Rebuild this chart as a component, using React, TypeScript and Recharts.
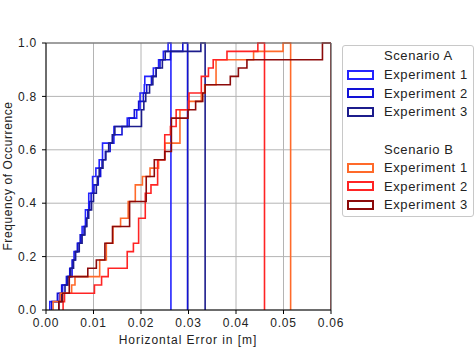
import {
  LineChart,
  Line,
  XAxis,
  YAxis,
  CartesianGrid,
  ReferenceLine,
} from "recharts";

// tick values
const xTicks = [0, 0.01, 0.02, 0.03, 0.04, 0.05, 0.06];
const yTicks = [0, 0.2, 0.4, 0.6, 0.8, 1.0];

// sorted horizontal errors [m] per experiment
const aExp1 = [
  0.0008, 0.0028, 0.0035, 0.0045, 0.0055, 0.0057, 0.0059, 0.0067, 0.0074, 0.0076,
  0.0083, 0.0083, 0.009, 0.009, 0.0098, 0.0098, 0.0105, 0.0112, 0.0119, 0.0119,
  0.0143, 0.0143, 0.0171, 0.0191, 0.0198, 0.0198, 0.0207, 0.0208, 0.0226, 0.0237,
  0.0247, 0.0257,
];
const aExp2 = [
  0.0012, 0.0024, 0.0033, 0.0043, 0.005, 0.0055, 0.0062, 0.0066, 0.0072, 0.008,
  0.0085, 0.0088, 0.0092, 0.0095, 0.0101, 0.011, 0.0115, 0.0118, 0.0125, 0.0135,
  0.014, 0.016, 0.0175, 0.0186, 0.0195, 0.0205, 0.0212, 0.0222, 0.0232, 0.024,
  0.0262, 0.0288,
];
const aExp3 = [
  0.0027, 0.0033, 0.004, 0.0046, 0.0052, 0.0058, 0.0062, 0.007, 0.0076, 0.0082,
  0.0086, 0.009, 0.0096, 0.01, 0.0106, 0.0108, 0.0112, 0.012, 0.0126, 0.0132,
  0.014, 0.0145, 0.0201, 0.0201, 0.0206, 0.021, 0.0218, 0.0225, 0.0232, 0.0245,
  0.0251, 0.0326,
];
const bExp1 = [
  0.0015, 0.003, 0.0054, 0.0061, 0.0113, 0.0113, 0.0127, 0.0127, 0.0141, 0.0141,
  0.0157, 0.0173, 0.0173, 0.0188, 0.0188, 0.0203, 0.0219, 0.0237, 0.025, 0.025,
  0.0282, 0.0282, 0.0282, 0.0282, 0.03, 0.0327, 0.0334, 0.0358, 0.0358, 0.0358,
  0.0437, 0.0499,
];
const bExp2 = [
  0.0036, 0.0039, 0.0102, 0.0117, 0.0131, 0.0171, 0.0171, 0.0184, 0.0195, 0.0195,
  0.0195, 0.0209, 0.0209, 0.0209, 0.0221, 0.0235, 0.0235, 0.0235, 0.025, 0.025,
  0.025, 0.0262, 0.0274, 0.0274, 0.0301, 0.0301, 0.0327, 0.0327, 0.0342, 0.0352,
  0.0381, 0.0446,
];
const bExp3 = [
  0.0027, 0.0035, 0.0049, 0.0049, 0.0088, 0.0106, 0.0124, 0.0124, 0.014, 0.014,
  0.0176, 0.0176, 0.0176, 0.0211, 0.0211, 0.0211, 0.0228, 0.0228, 0.025, 0.0264,
  0.0264, 0.0264, 0.0264, 0.0299, 0.0315, 0.033, 0.0335, 0.0388, 0.0405, 0.0423,
  0.0582, 0.0582,
];

// right edge of the last histogram bin
const aExp1End = 0.0263;
const aExp2End = 0.0298;
const aExp3End = 0.0335;
const bExp1End = 0.0515;
const bExp2End = 0.046;
const bExp3End = 0.06;

type Pt = { x: number; y: number };

// cumulative step curve, closed down to zero at the last edge
function toSteps(samples: number[], end: number): Pt[] {
  const n = samples.length;
  const pts: Pt[] = [{ x: samples[0], y: 0 }];
  samples.forEach((v, i) => pts.push({ x: v, y: (i + 1) / n }));
  pts.push({ x: end, y: 1 }, { x: end, y: 0 });
  return pts;
}

const series = [
  { name: "Experiment 1", color: "#2424ff", data: toSteps(aExp1, aExp1End) },
  { name: "Experiment 2", color: "#1212d6", data: toSteps(aExp2, aExp2End) },
  { name: "Experiment 3", color: "#1c1c8c", data: toSteps(aExp3, aExp3End) },
  { name: "Experiment 1", color: "#ff6a2a", data: toSteps(bExp1, bExp1End) },
  { name: "Experiment 2", color: "#ff2424", data: toSteps(bExp2, bExp2End) },
  { name: "Experiment 3", color: "#8c0a0a", data: toSteps(bExp3, bExp3End) },
];

const font = "'Liberation Sans', Arial, sans-serif";
const tickStyle = {
  fontSize: 12,
  fill: "#222",
  fontFamily: font,
  letterSpacing: 0.8,
};

function LegendBox() {
  const rows: { text: string; color?: string; top: number }[] = [
    { text: "Scenario A", top: 55 },
    { text: "Experiment 1", color: series[0].color, top: 74 },
    { text: "Experiment 2", color: series[1].color, top: 92.5 },
    { text: "Experiment 3", color: series[2].color, top: 111 },
    { text: "Scenario B", top: 148.5 },
    { text: "Experiment 1", color: series[3].color, top: 167 },
    { text: "Experiment 2", color: series[4].color, top: 185.5 },
    { text: "Experiment 3", color: series[5].color, top: 204 },
  ];
  return (
    <div
      style={{
        position: "absolute",
        left: 342,
        top: 45,
        width: 130,
        height: 170,
        border: "1px solid #c8c8c8",
        borderRadius: 3,
        background: "#fff",
      }}
    >
      {rows.map((r, i) => (
        <div key={i}>
          {r.color && (
            <div
              style={{
                position: "absolute",
                left: 4,
                top: r.top - 45 - 5.5,
                width: 23,
                height: 6,
                border: `2px solid ${r.color}`,
                background: "#fff",
              }}
            />
          )}
          <div
            style={{
              position: "absolute",
              left: 41,
              top: r.top - 45 - 9,
              lineHeight: "18px",
              fontSize: 13,
              fontFamily: font,
              letterSpacing: 0.6,
              color: "#222",
              whiteSpace: "nowrap",
            }}
          >
            {r.text}
          </div>
        </div>
      ))}
    </div>
  );
}

export default function App() {
  return (
    <div style={{ position: "absolute", left: 0, top: 0, width: 475, height: 354 }}>
      <LineChart
        width={475}
        height={354}
        margin={{ top: 43, right: 144, bottom: 14, left: 0 }}
      >
        <CartesianGrid stroke="#b4b4b4" strokeWidth={1} />
        <XAxis
          type="number"
          dataKey="x"
          domain={[0, 0.06]}
          ticks={xTicks}
          allowDataOverflow
          height={30}
          tickSize={4}
          tickMargin={4}
          tickFormatter={(v: number) => v.toFixed(2)}
          stroke="#000"
          tick={tickStyle}
        />
        <YAxis
          type="number"
          dataKey="y"
          domain={[0, 1]}
          ticks={yTicks}
          width={46}
          tickSize={4}
          tickMargin={5}
          tickFormatter={(v: number) => v.toFixed(1)}
          stroke="#000"
          tick={tickStyle}
        />
        {series.map((s, i) => (
          <Line
            key={i}
            data={s.data}
            dataKey="y"
            type="stepAfter"
            stroke={s.color}
            strokeWidth={1.6}
            dot={false}
            activeDot={false}
            isAnimationActive={false}
          />
        ))}
        <ReferenceLine y={1} stroke="#666" strokeWidth={1.2} />
        <ReferenceLine x={0.06} stroke="#666" strokeWidth={1.2} />
      </LineChart>
      <div
        style={{
          position: "absolute",
          left: 188,
          top: 340,
          transform: "translate(-50%, -50%)",
          fontSize: 12,
          fontFamily: font,
          letterSpacing: 0.95,
          color: "#222",
          whiteSpace: "nowrap",
        }}
      >
        Horizontal Error in [m]
      </div>
      <div
        style={{
          position: "absolute",
          left: 8,
          top: 176,
          transform: "translate(-50%, -50%) rotate(-90deg)",
          fontSize: 12,
          fontFamily: font,
          letterSpacing: 0.6,
          color: "#222",
          whiteSpace: "nowrap",
        }}
      >
        Frequency of Occurrence
      </div>
      <LegendBox />
    </div>
  );
}
